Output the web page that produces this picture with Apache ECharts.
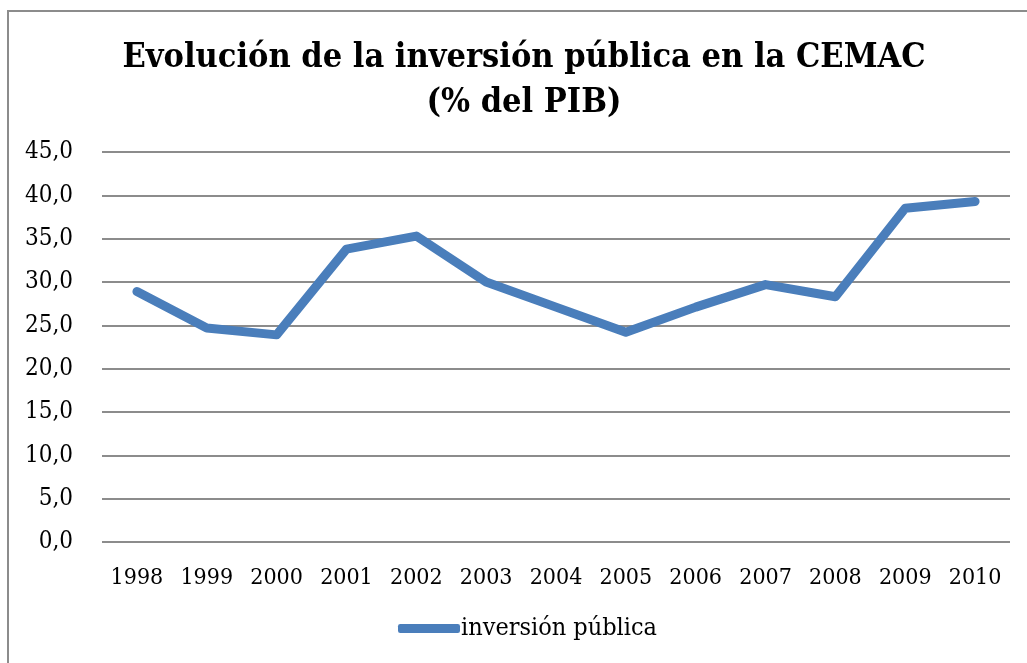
<!DOCTYPE html>
<html>
<head>
<meta charset="utf-8">
<script src="https://cdn.jsdelivr.net/npm/echarts@6/dist/echarts.min.js"></script>
<style>
  html, body { margin: 0; padding: 0; background: #fff; }
  #frame { position: absolute; left: 7px; top: 10px; width: 1030px; height: 660px;
           border-left: 2px solid #8c8c8c; border-top: 2px solid #8c8c8c; }
  #chart { position: absolute; left: 0; top: 0; width: 1027px; height: 663px; }
</style>
</head>
<body>
<div id="frame"></div>
<div id="chart"></div>
<script>
// datos del gráfico
var years = ["1998", "1999", "2000", "2001", "2002", "2003", "2004", "2005", "2006", "2007", "2008", "2009", "2010"];
var inversionPublica = [28.9, 24.7, 23.9, 33.8, 35.3, 30.0, 27.1, 24.2, 27.1, 29.7, 28.3, 38.5, 39.3];
var seriesName = "inversión pública";
var titleText = "Evolución de la inversión pública en la CEMAC\n(% del PIB)";

var serif = "'DejaVu Serif Condensed', 'DejaVu Serif', serif";

var chart = echarts.init(document.getElementById("chart"));
chart.setOption({
  backgroundColor: "transparent",
  animation: false,
  title: {
    text: titleText,
    left: 519,
    textAlign: "center",
    top: 31,
    textStyle: {
      fontFamily: serif,
      fontWeight: "bold",
      fontSize: 34,
      lineHeight: 45,
      color: "#000"
    }
  },
  grid: { left: 102, right: 17, top: 152, bottom: 121 },
  legend: {
    bottom: 17,
    left: 393,
    itemWidth: 62,
    itemHeight: 9,
    itemGap: 0,
    icon: "roundRect",
    textStyle: { fontFamily: serif, fontSize: 25, color: "#000", padding: [0, 0, 0, -4] },
    data: [seriesName]
  },
  xAxis: {
    type: "category",
    data: years,
    boundaryGap: true,
    axisLine: { show: false },
    axisTick: { show: false },
    axisLabel: { fontFamily: serif, fontSize: 23, color: "#000", margin: 25 }
  },
  yAxis: {
    type: "value",
    min: 0,
    max: 45,
    interval: 5,
    axisLine: { show: false },
    axisTick: { show: false },
    splitLine: { lineStyle: { color: "#8c8c8c", width: 2 } },
    axisLabel: {
      fontFamily: serif, fontSize: 24, color: "#000", margin: 29,
      formatter: function (v) { return v.toFixed(1).replace(".", ","); }
    }
  },
  series: [{
    name: seriesName,
    type: "line",
    data: inversionPublica,
    symbol: "none",
    lineStyle: { color: "#4a7ebb", width: 9, cap: "round", join: "round" },
    itemStyle: { color: "#4a7ebb" }
  }]
});
</script>
</body>
</html>
